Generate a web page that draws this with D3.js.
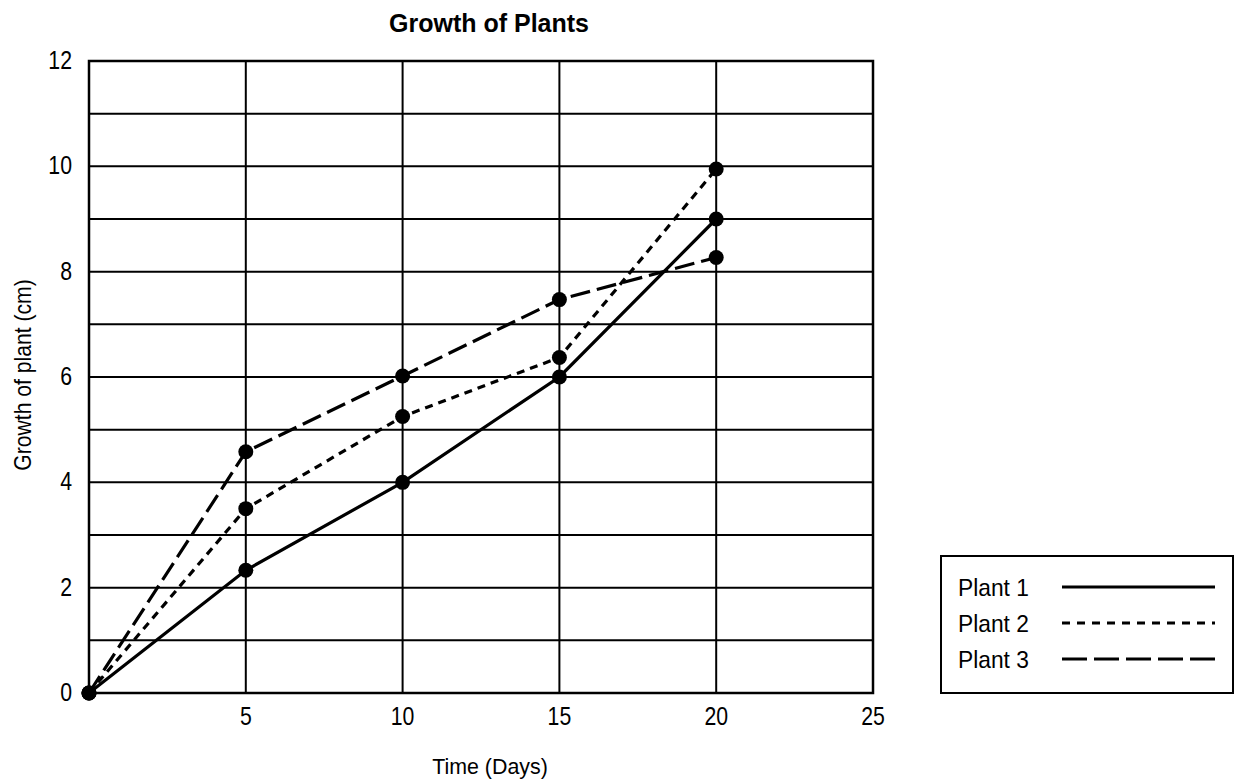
<!DOCTYPE html>
<html>
<head>
<meta charset="utf-8">
<script src="https://cdn.jsdelivr.net/npm/d3@7"></script>
<style>
  body { margin: 0; background: #fff; }
  text { font-family: "Liberation Sans", Arial, sans-serif; fill: #000; }
</style>
</head>
<body>
<div class="holder"></div>
<script>
"use strict";

const days = [0, 5, 10, 15, 20];
const plant1 = [0, 2.33, 4, 6, 9];
const plant2 = [0, 3.5, 5.25, 6.37, 9.95];
const plant3 = [0, 4.58, 6.02, 7.47, 8.27];
const seriesNames = ["Plant 1", "Plant 2", "Plant 3"];
const xTicks = [5, 10, 15, 20, 25];
const yTicks = [0, 2, 4, 6, 8, 10, 12];

const w = 1236;
const h = 780;
const dashes = ["none", "8,6", "20,7"];
const legendDashes = ["none", "8,7", "25,7"];

const svg = d3
  .select(".holder")
  .append("svg")
  .attr("width", w)
  .attr("height", h);

const x = d3.scaleLinear().domain([0, 25]).range([89, 873]);
const y = d3.scaleLinear().domain([0, 12]).range([693, 61]);

// condensed-looking text: squeeze horizontally
const squeeze = (g, px, py, sx, rot) =>
  g.attr(
    "transform",
    "translate(" + px + "," + py + ")" + (rot ? " rotate(" + rot + ")" : "") +
      " scale(" + sx + ",1)"
  );

// grid
svg
  .append("g")
  .selectAll("line")
  .data(d3.range(1, 12))
  .enter()
  .append("line")
  .attr("x1", x(0))
  .attr("x2", x(25))
  .attr("y1", (d) => y(d))
  .attr("y2", (d) => y(d))
  .attr("stroke", "#000")
  .attr("stroke-width", 2);
svg
  .append("g")
  .selectAll("line")
  .data([5, 10, 15, 20])
  .enter()
  .append("line")
  .attr("x1", (d) => x(d))
  .attr("x2", (d) => x(d))
  .attr("y1", y(0))
  .attr("y2", y(12))
  .attr("stroke", "#000")
  .attr("stroke-width", 2);
svg
  .append("rect")
  .attr("x", x(0))
  .attr("y", y(12))
  .attr("width", x(25) - x(0))
  .attr("height", y(0) - y(12))
  .attr("fill", "none")
  .attr("stroke", "#000")
  .attr("stroke-width", 2.5);

// tick labels
svg
  .append("g")
  .selectAll("text")
  .data(xTicks)
  .enter()
  .append("text")
  .each(function (d) {
    squeeze(d3.select(this), x(d), 725, 0.85);
  })
  .attr("text-anchor", "middle")
  .style("font-size", "25px")
  .text((d) => d);
svg
  .append("g")
  .selectAll("text")
  .data(yTicks)
  .enter()
  .append("text")
  .each(function (d) {
    squeeze(d3.select(this), 72, y(d) + 8, 0.85);
  })
  .attr("text-anchor", "end")
  .style("font-size", "25px")
  .text((d) => d);

// titles
svg
  .append("text")
  .attr("x", 489)
  .attr("y", 32)
  .attr("text-anchor", "middle")
  .style("font-size", "25px")
  .style("font-weight", "bold")
  .text("Growth of Plants");
squeeze(svg.append("text"), 490, 774, 0.93)
  .attr("text-anchor", "middle")
  .style("font-size", "23px")
  .text("Time (Days)");
squeeze(svg.append("text"), 31, 375, 0.92, -90)
  .attr("text-anchor", "middle")
  .style("font-size", "23px")
  .text("Growth of plant (cm)");

// lines and points
const allSeries = [plant1, plant2, plant3];
const line = d3
  .line()
  .x((d, i) => x(days[i]))
  .y((d) => y(d));
allSeries.forEach((s, k) => {
  svg
    .append("path")
    .datum(s)
    .attr("d", line)
    .attr("fill", "none")
    .attr("stroke", "#000")
    .attr("stroke-width", 3.2)
    .attr("stroke-dasharray", dashes[k]);
});
allSeries.forEach((s) => {
  svg
    .append("g")
    .selectAll("circle")
    .data(s)
    .enter()
    .append("circle")
    .attr("cx", (d, i) => x(days[i]))
    .attr("cy", (d) => y(d))
    .attr("r", 7.5)
    .attr("fill", "#000");
});

// legend
const legend = svg.append("g");
legend
  .append("rect")
  .attr("x", 941)
  .attr("y", 556)
  .attr("width", 292)
  .attr("height", 137)
  .attr("fill", "none")
  .attr("stroke", "#000")
  .attr("stroke-width", 2);
seriesNames.forEach((name, k) => {
  const ly = 587 + k * 36;
  squeeze(legend.append("text"), 958, ly + 9, 0.95)
    .style("font-size", "24px")
    .text(name);
  legend
    .append("line")
    .attr("x1", 1062)
    .attr("x2", 1215)
    .attr("y1", ly)
    .attr("y2", ly)
    .attr("stroke", "#000")
    .attr("stroke-width", 3.2)
    .attr("stroke-dasharray", legendDashes[k]);
});
</script>
</body>
</html>
